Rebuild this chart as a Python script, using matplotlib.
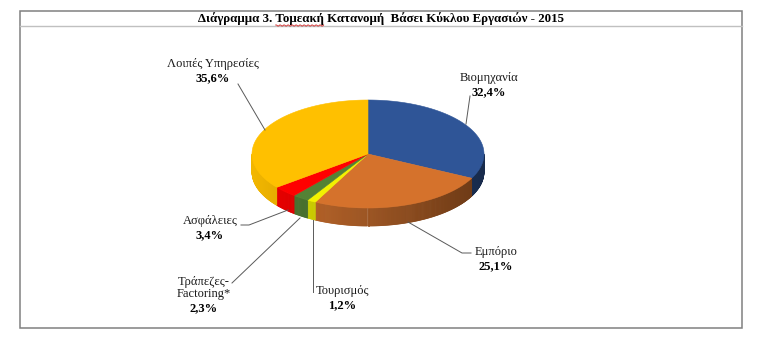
import numpy as np
import matplotlib
matplotlib.use('Agg')
import matplotlib.pyplot as plt
from matplotlib.patches import Polygon, Rectangle
from matplotlib.collections import PolyCollection
from matplotlib.colors import to_rgb

# data
title   = 'Διάγραμμα 3. Τομεακή Κατανομή  Βάσει Κύκλου Εργασιών - 2015'
sectors = ['Βιομηχανία', 'Εμπόριο', 'Τουρισμός', 'Τράπεζες-\nFactoring*', 'Ασφάλειες', 'Λοιπές Υπηρεσίες']
shares  = [32.4, 25.1, 1.2, 2.3, 3.4, 35.6]
colors  = ['#2F5597', '#D5722C', '#F2F200', '#548235', '#FF0000', '#FFC000']

# label layout (centre x, y of percentage line) and leader line paths, in pixels
label_pos = [(489, 92), (496, 266), (342, 305), (204, 308), (210, 235), (213, 78)]
leaders   = [[(470, 96), (466, 124)],
             [(408, 222), (462, 253), (471, 253)],
             [(313, 220), (313, 292)],
             [(232, 283), (300, 218)],
             [(241, 225), (249, 225), (288, 210)],
             [(238, 84), (265, 130)]]

serif = 'Liberation Serif'
W, H = 775, 350
fig = plt.figure(figsize=(W / 100, H / 100), dpi=100, facecolor='white')
ax = fig.add_axes([0, 0, 1, 1])
ax.set_xlim(0, W)
ax.set_ylim(H, 0)
ax.axis('off')

# frame + title
ax.add_patch(Rectangle((20, 11), 722, 317, fill=False, edgecolor='#808080', linewidth=1.1, zorder=1))
ax.plot([20, 742], [26, 26], color='#c0c0c0', linewidth=1, zorder=1)
t = ax.text(381, 19, title, ha='center', va='center', fontsize=9.3, fontweight='bold', family=serif, zorder=5)

# red spell-check squiggle under "Τομεακή"
fig.canvas.draw()
r = fig.canvas.get_renderer()
bb = t.get_window_extent(renderer=r)
prop = t.get_fontproperties()
w_pre, _, _ = r.get_text_width_height_descent('Διάγραμμα 3. ', prop, ismath=False)
w_word, _, _ = r.get_text_width_height_descent('Τομεακή', prop, ismath=False)
xs = np.arange(bb.x0 + w_pre, bb.x0 + w_pre + w_word, 1.0)
ax.plot(xs, 26 - 1.0 * (np.arange(len(xs)) % 4 < 2), color='#d02020', linewidth=0.6, zorder=6)

# 3D pie
cx, cy, rx, ry, depth = 368, 154, 116, 54, 18
bounds = 90 - 3.6 * np.concatenate([[0], np.cumsum(shares)])

def pt(a, dy=0):
  a = np.radians(a)
  return cx + rx * np.cos(a), cy - ry * np.sin(a) + dy

# side walls of the front half, shaded darker towards the right
for i, c in enumerate(colors):
  a0, a1 = bounds[i], bounds[i + 1]
  lo, hi = max(a1, -180), min(a0, 0)
  if lo >= hi:
    continue
  steps = np.linspace(hi, lo, max(2, int((hi - lo) / 0.5)))
  quads, fcs = [], []
  base = np.array(to_rgb(c))
  for s0, s1 in zip(steps[:-1], steps[1:]):
    p0, p1 = pt(s0), pt(s1)
    quads.append([p0, p1, (p1[0], p1[1] + depth), (p0[0], p0[1] + depth)])
    f = 0.5 + 0.45 * (1 - np.cos(np.radians((s0 + s1) / 2))) / 2
    fcs.append(np.clip(base * f, 0, 1))
  ax.add_collection(PolyCollection(quads, facecolors=fcs, edgecolors=fcs, linewidths=0.5, zorder=2))

# top faces
for i, c in enumerate(colors):
  a0, a1 = bounds[i], bounds[i + 1]
  arc = [pt(a) for a in np.linspace(a0, a1, max(3, int(abs(a0 - a1) / 0.5)))]
  ax.add_patch(Polygon([(cx, cy)] + arc, closed=True, facecolor=c, edgecolor=c, linewidth=0.4, zorder=3))

# labels and leader lines
for name, v, (lx, ly), path in zip(sectors, shares, label_pos, leaders):
  pct = f'{v:.1f}'.replace('.', ',') + '%'
  ax.text(lx, ly, pct, ha='center', va='center', fontsize=9, fontweight='bold', family=serif, color='black', zorder=5)
  lines = name.split('\n')
  for k, line in enumerate(reversed(lines)):
    ax.text(lx, ly - 14 - 12.5 * k, line, ha='center', va='center', fontsize=9, family=serif, color='#1a1a1a', zorder=5)
  px, py = zip(*path)
  ax.plot(px, py, color='#595959', linewidth=0.7, zorder=4)

fig.savefig('out.png', dpi=100, facecolor='white')
